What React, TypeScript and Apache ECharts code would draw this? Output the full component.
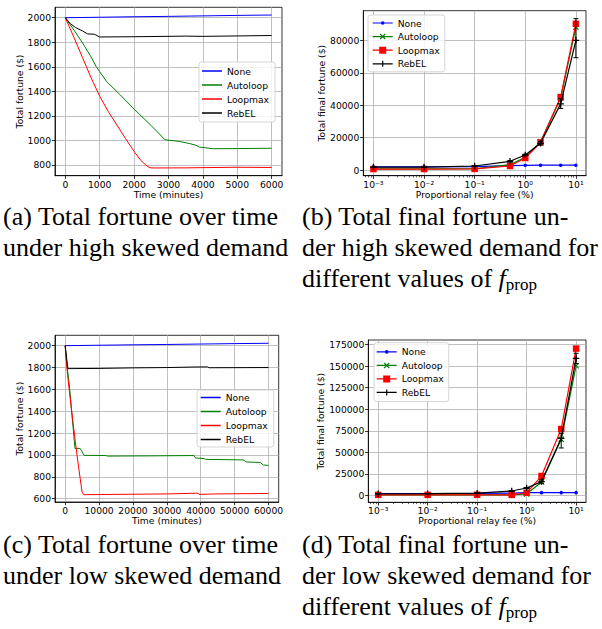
import React, { useEffect, useRef } from 'react';
import * as echarts from 'echarts';

const seriesNames = ['None', 'Autoloop', 'Loopmax', 'RebEL'];
const seriesColors = ['#0000ff', '#008000', '#ff0000', '#000000'];

// (a) high skewed demand: [minutes, total fortune $]
const aNone = [[0, 2000], [1000, 2004], [2000, 2008], [3000, 2011], [4000, 2015], [5000, 2019], [6000, 2022]];
const aAutoloop = [[0, 2000], [250, 1900], [500, 1795], [750, 1680], [900, 1600], [1000, 1560], [1200, 1480], [1600, 1370], [2000, 1255], [2500, 1120], [2900, 1005], [3300, 992], [3600, 975], [3800, 960], [3900, 945], [4300, 932], [5000, 933], [6000, 936]];
const aLoopmax = [[0, 2000], [250, 1840], [500, 1675], [750, 1510], [1000, 1360], [1250, 1235], [1500, 1125], [1750, 1015], [2000, 910], [2200, 835], [2400, 785], [2500, 775], [3500, 776], [5000, 781], [6000, 779]];
const aRebEL = [[0, 2000], [150, 1950], [300, 1920], [500, 1892], [650, 1868], [850, 1865], [950, 1850], [1000, 1843], [2000, 1845], [3500, 1850], [4000, 1848], [6000, 1855]];

// (c) low skewed demand: [minutes, total fortune $]
const cNone = [[0, 2000], [10000, 2004], [20000, 2008], [30000, 2011], [40000, 2015], [50000, 2019], [60000, 2022]];
const cAutoloop = [[0, 2000], [600, 1800], [1200, 1650], [2200, 1300], [2900, 1060], [4400, 1060], [5000, 1030], [5600, 997], [12000, 995], [12500, 990], [25000, 992], [38000, 995], [38500, 972], [41000, 968], [41500, 960], [52500, 955], [53500, 936], [57500, 932], [58500, 908], [60000, 905]];
const cLoopmax = [[0, 2000], [500, 1800], [1000, 1650], [2000, 1380], [3000, 1120], [4000, 880], [5000, 660], [5500, 637], [20000, 641], [30000, 644], [38500, 650], [39200, 651], [39500, 640], [45000, 644], [60000, 648]];
const cRebEL = [[0, 2000], [800, 1790], [10000, 1792], [20000, 1797], [30000, 1800], [38000, 1805], [42000, 1806], [42500, 1798], [60000, 1800]];

// (b), (d) final fortune vs proportional relay fee (%)
const feePct = [0.001, 0.01, 0.1, 0.5, 1, 2, 5, 10];
const bNone = [2000, 2000, 2100, 2700, 2900, 3000, 3000, 3000];
const bAutoloop = [700, 700, 800, 3300, 7800, 17500, 44300, 88200];
const bLoopmax = [600, 600, 700, 2500, 7400, 17000, 45000, 90200];
const bRebEL = [1800, 1850, 2500, 5400, 9300, 16500, 40800, 80000];
const bRebELLow = [1700, 1750, 2300, 5000, 8800, 15500, 38000, 69300];
const bRebELHigh = [1900, 1950, 2700, 5800, 9800, 17500, 44000, 93400];

const dNone = [2000, 2000, 2200, 2600, 3100, 3100, 3100, 3100];
const dAutoloop = [500, 500, 500, 600, 1500, 15500, 65000, 150500];
const dLoopmax = [500, 500, 600, 500, 3000, 22400, 77000, 170500];
const dRebEL = [1800, 1900, 2500, 5000, 8500, 15900, 66200, 159000];
const dRebELLow = [1700, 1800, 2300, 4600, 8000, 14000, 55000, 153000];
const dRebELHigh = [1900, 2000, 2700, 5400, 9000, 18000, 72000, 165000];

// tick values
const aXTicks = [0, 1000, 2000, 3000, 4000, 5000, 6000];
const aYTicks = [800, 1000, 1200, 1400, 1600, 1800, 2000];
const cXTicks = [0, 10000, 20000, 30000, 40000, 50000, 60000];
const cYTicks = [600, 800, 1000, 1200, 1400, 1600, 1800, 2000];
const bYTicks = [0, 20000, 40000, 60000, 80000];
const dYTicks = [0, 25000, 50000, 75000, 100000, 125000, 150000, 175000];
const logXTicks = [-3, -2, -1, 0, 1];

const captionA = ['(a) Total fortune over time', 'under high skewed demand'];
const captionB = ['(b) Total final fortune un-', 'der high skewed demand for', 'different values of '];
const captionC = ['(c) Total fortune over time', 'under low skewed demand'];
const captionD = ['(d) Total final fortune un-', 'der low skewed demand for', 'different values of '];

const FONT = 'DejaVu Sans';
const lab = { fontFamily: FONT, fontSize: 9.2, color: '#000' };
const SERIF = '"Liberation Serif", "DejaVu Serif", serif';

const minorLog: number[] = [];
for (let n = -4; n <= 1; n++) {
  for (let k = 2; k <= 9; k++) {
    const v = n + Math.log10(k);
    if (v > -3.2 && v < 1.2) minorLog.push(v);
  }
}

const supMap: Record<string, string> = { '-': '\u207B', '0': '\u2070', '1': '\u00B9', '2': '\u00B2', '3': '\u00B3' };
const logFmt = (v: number) => '10' + String(Math.round(v)).split('').map((c) => supMap[c] || c).join('');

const markerX = 'path://M0,1.4L1.4,0L5,3.6L8.6,0L10,1.4L6.4,5L10,8.6L8.6,10L5,6.4L1.4,10L0,8.6L3.6,5Z';
const markerPlus = 'path://M4,0H6V4H10V6H6V10H4V6H0V4H4Z';

const specks = 'M0,0h0.05v0.05h-0.05Z M19.95,7.95h0.05v0.05h-0.05Z ';
const bar = 'M0,3.4H20V4.6H0Z ';
const legendIcons = [
  'path://' + specks + bar + 'M8.2,4A1.8,1.8 0 1 1 11.8,4A1.8,1.8 0 1 1 8.2,4Z',
  'path://' + specks + bar + 'M7,1.8L7.8,1L10,3.2L12.2,1L13,1.8L10.8,4L13,6.2L12.2,7L10,4.8L7.8,7L7,6.2L9.2,4Z',
  'path://' + specks + bar + 'M6.5,0.5H13.5V7.5H6.5Z',
  'path://' + specks + bar + 'M9.4,1H10.6V3.4H13V4.6H10.6V7H9.4V4.6H7V3.4H9.4Z',
];
const seriesMarkers = ['circle', markerX, 'rect', markerPlus];
const markerSizes = [3.5, 6, 6.5, 6.5];

function grid(l: number, t: number, r: number, b: number) {
  return {
    left: l, top: t, width: r - l, height: b - t,
    show: true, borderColor: '#000', borderWidth: 0.8, backgroundColor: 'transparent',
    containLabel: false, outerBoundsMode: 'none',
  };
}

function axis(gridIndex: number, min: number, max: number, ticks: number[], name: string, nameGap: number, fmt?: (v: number) => string) {
  return {
    type: 'value', gridIndex, min, max, name, nameLocation: 'middle', nameGap,
    nameTextStyle: { ...lab },
    axisLine: { show: true, onZero: false, lineStyle: { color: '#000', width: 0.8 } },
    axisTick: { show: true, inside: false, length: 3.2, lineStyle: { color: '#000', width: 0.8 }, customValues: ticks },
    axisLabel: { ...lab, margin: 4, customValues: ticks, formatter: fmt || ((v: number) => String(v)) },
    splitLine: { show: true, lineStyle: { color: '#b0b0b0', width: 0.8 } },
    minorTick: { show: false },
  };
}

function minorAxis(gridIndex: number) {
  return {
    type: 'value', gridIndex, min: -3.2, max: 1.2, position: 'bottom',
    axisLine: { show: false, onZero: false },
    axisTick: { show: true, inside: false, length: 1.8, lineStyle: { color: '#000', width: 0.6 }, customValues: minorLog },
    axisLabel: { show: false },
    splitLine: { show: false },
  };
}

const suffix = ['', ' ', '  ', '   '];

function timeSeries(panel: number, datasets: number[][][]) {
  return datasets.map((d, i) => ({
    type: 'line', name: seriesNames[i] + suffix[panel], xAxisIndex: panel, yAxisIndex: panel,
    data: d, symbol: 'none', showSymbol: false, silent: true,
    lineStyle: { color: seriesColors[i], width: 1 },
    itemStyle: { color: seriesColors[i], borderWidth: 0 },
  }));
}

function feeSeries(panel: number, values: number[][]) {
  return values.map((vals, i) => ({
    type: 'line', name: seriesNames[i] + suffix[panel], xAxisIndex: panel, yAxisIndex: panel,
    data: feePct.map((f, j) => [Math.log10(f), vals[j]]),
    symbol: seriesMarkers[i], symbolSize: markerSizes[i], showSymbol: true, silent: true,
    lineStyle: { color: seriesColors[i], width: 1.2 },
    itemStyle: { color: seriesColors[i], borderWidth: 0 },
    z: 2 + i,
  }));
}

function errorSeries(panel: number, lo: number[], hi: number[]) {
  return {
    type: 'custom', name: 'RebEL error' + suffix[panel], xAxisIndex: panel, yAxisIndex: panel, silent: true, z: 10,
    data: feePct.map((f, j) => [Math.log10(f), lo[j], hi[j]]),
    encode: { x: 0, y: [1, 2] },
    renderItem: (params: any, api: any) => {
      const x = api.value(0);
      const p1 = api.coord([x, api.value(1)]);
      const p2 = api.coord([x, api.value(2)]);
      const w = 2.5;
      const st = { stroke: '#000', lineWidth: 1 };
      return {
        type: 'group',
        children: [
          { type: 'line', shape: { x1: p1[0], y1: p1[1], x2: p2[0], y2: p2[1] }, style: st },
          { type: 'line', shape: { x1: p1[0] - w, y1: p1[1], x2: p1[0] + w, y2: p1[1] }, style: st },
          { type: 'line', shape: { x1: p2[0] - w, y1: p2[1], x2: p2[0] + w, y2: p2[1] }, style: st },
        ],
      };
    },
  };
}

const legendBox = {
  orient: 'vertical', backgroundColor: 'rgba(255,255,255,0.8)', borderColor: '#cccccc', borderWidth: 0.8,
  borderRadius: 2.5, selectedMode: false, textStyle: { ...lab, lineHeight: 11 },
  formatter: (n: string) => n.trim(),
};

function lineLegend(panel: number, left: number, top: number, padding: number[]) {
  return {
    ...legendBox, left, top, padding, itemWidth: 20, itemHeight: 1.5, itemGap: 3, icon: 'rect',
    data: seriesNames.map((n) => n + suffix[panel]),
  };
}

function markerLegend(panel: number, left: number, top: number, padding: number[], gap: number) {
  return {
    ...legendBox, left, top, padding, itemWidth: 20, itemHeight: 8, itemGap: gap,
    data: seriesNames.map((n, i) => ({ name: n + suffix[panel], icon: legendIcons[i] })),
  };
}

function captionTexts(lines: string[], x: number, ys: number[], withSub: boolean) {
  const out: any[] = [];
  lines.forEach((t, i) => {
    const isLast = withSub && i === lines.length - 1;
    if (isLast) {
      out.push({
        type: 'text', silent: true,
        style: {
          x, y: ys[i], verticalAlign: 'middle', fill: '#000',
          text: '{n|' + t + '}{i|f}{s|prop}',
          rich: {
            n: { fontFamily: SERIF, fontSize: 26, lineHeight: 30, fill: '#000' },
            i: { fontFamily: SERIF, fontSize: 26, fontStyle: 'italic', lineHeight: 30, fill: '#000' },
            s: { fontFamily: SERIF, fontSize: 17, lineHeight: 17, verticalAlign: 'bottom', fill: '#000' },
          },
        },
      });
    } else {
      out.push({
        type: 'text', silent: true,
        style: { x, y: ys[i], text: t, verticalAlign: 'middle', fill: '#000', fontFamily: SERIF, fontSize: 26 },
      });
    }
  });
  return out;
}

const topCapY = [216, 247, 278];
const botCapY = [544, 575, 606];

const option: any = {
  animation: false,
  backgroundColor: '#ffffff',
  grid: [grid(55, 7.3, 282, 175.7), grid(363.3, 10.7, 586, 175.7), grid(55, 335.3, 278.7, 502), grid(368.3, 340, 586, 502.3)],
  xAxis: [
    axis(0, -300, 6300, aXTicks, 'Time (minutes)', 14),
    axis(1, -3.2, 1.2, logXTicks, 'Proportional relay fee (%)', 14, logFmt),
    axis(2, -3000, 63000, cXTicks, 'Time (minutes)', 14),
    axis(3, -3.2, 1.2, logXTicks, 'Proportional relay fee (%)', 14, logFmt),
    minorAxis(1),
    minorAxis(3),
  ],
  yAxis: [
    axis(0, 712, 2085, aYTicks, 'Total fortune ($)', 29.5),
    axis(1, -3500, 98300, bYTicks, 'Total final fortune ($)', 35),
    axis(2, 570, 2095, cYTicks, 'Total fortune ($)', 29.5),
    axis(3, -8130, 180460, dYTicks, 'Total final fortune ($)', 40),
  ],
  legend: [
    lineLegend(0, 199, 62, [3.5, 6, 3.5, 3]),
    markerLegend(1, 368, 15, [2.5, 5, 2.5, 4.7], 2.6),
    lineLegend(2, 197, 390, [2, 6, 2, 3.7]),
    markerLegend(3, 374, 342.7, [3.7, 5, 3.7, 2.7], 2.5),
  ],
  series: [
    ...timeSeries(0, [aNone, aAutoloop, aLoopmax, aRebEL]),
    ...feeSeries(1, [bNone, bAutoloop, bLoopmax, bRebEL]),
    errorSeries(1, bRebELLow, bRebELHigh),
    ...timeSeries(2, [cNone, cAutoloop, cLoopmax, cRebEL]),
    ...feeSeries(3, [dNone, dAutoloop, dLoopmax, dRebEL]),
    errorSeries(3, dRebELLow, dRebELHigh),
  ],
  graphic: [
    ...captionTexts(captionA, 3, topCapY, false),
    ...captionTexts(captionB, 302, topCapY, true),
    ...captionTexts(captionC, 3, botCapY, false),
    ...captionTexts(captionD, 302, botCapY, true),
  ],
};

export default function App() {
  const ref = useRef<HTMLDivElement>(null);
  useEffect(() => {
    if (!ref.current) return;
    const chart = echarts.init(ref.current, null, { renderer: 'svg', width: 602, height: 629 });
    chart.setOption(option);
    return () => chart.dispose();
  }, []);
  return <div ref={ref} style={{ position: 'absolute', left: 0, top: 0, width: 602, height: 629, background: '#fff' }} />;
}
